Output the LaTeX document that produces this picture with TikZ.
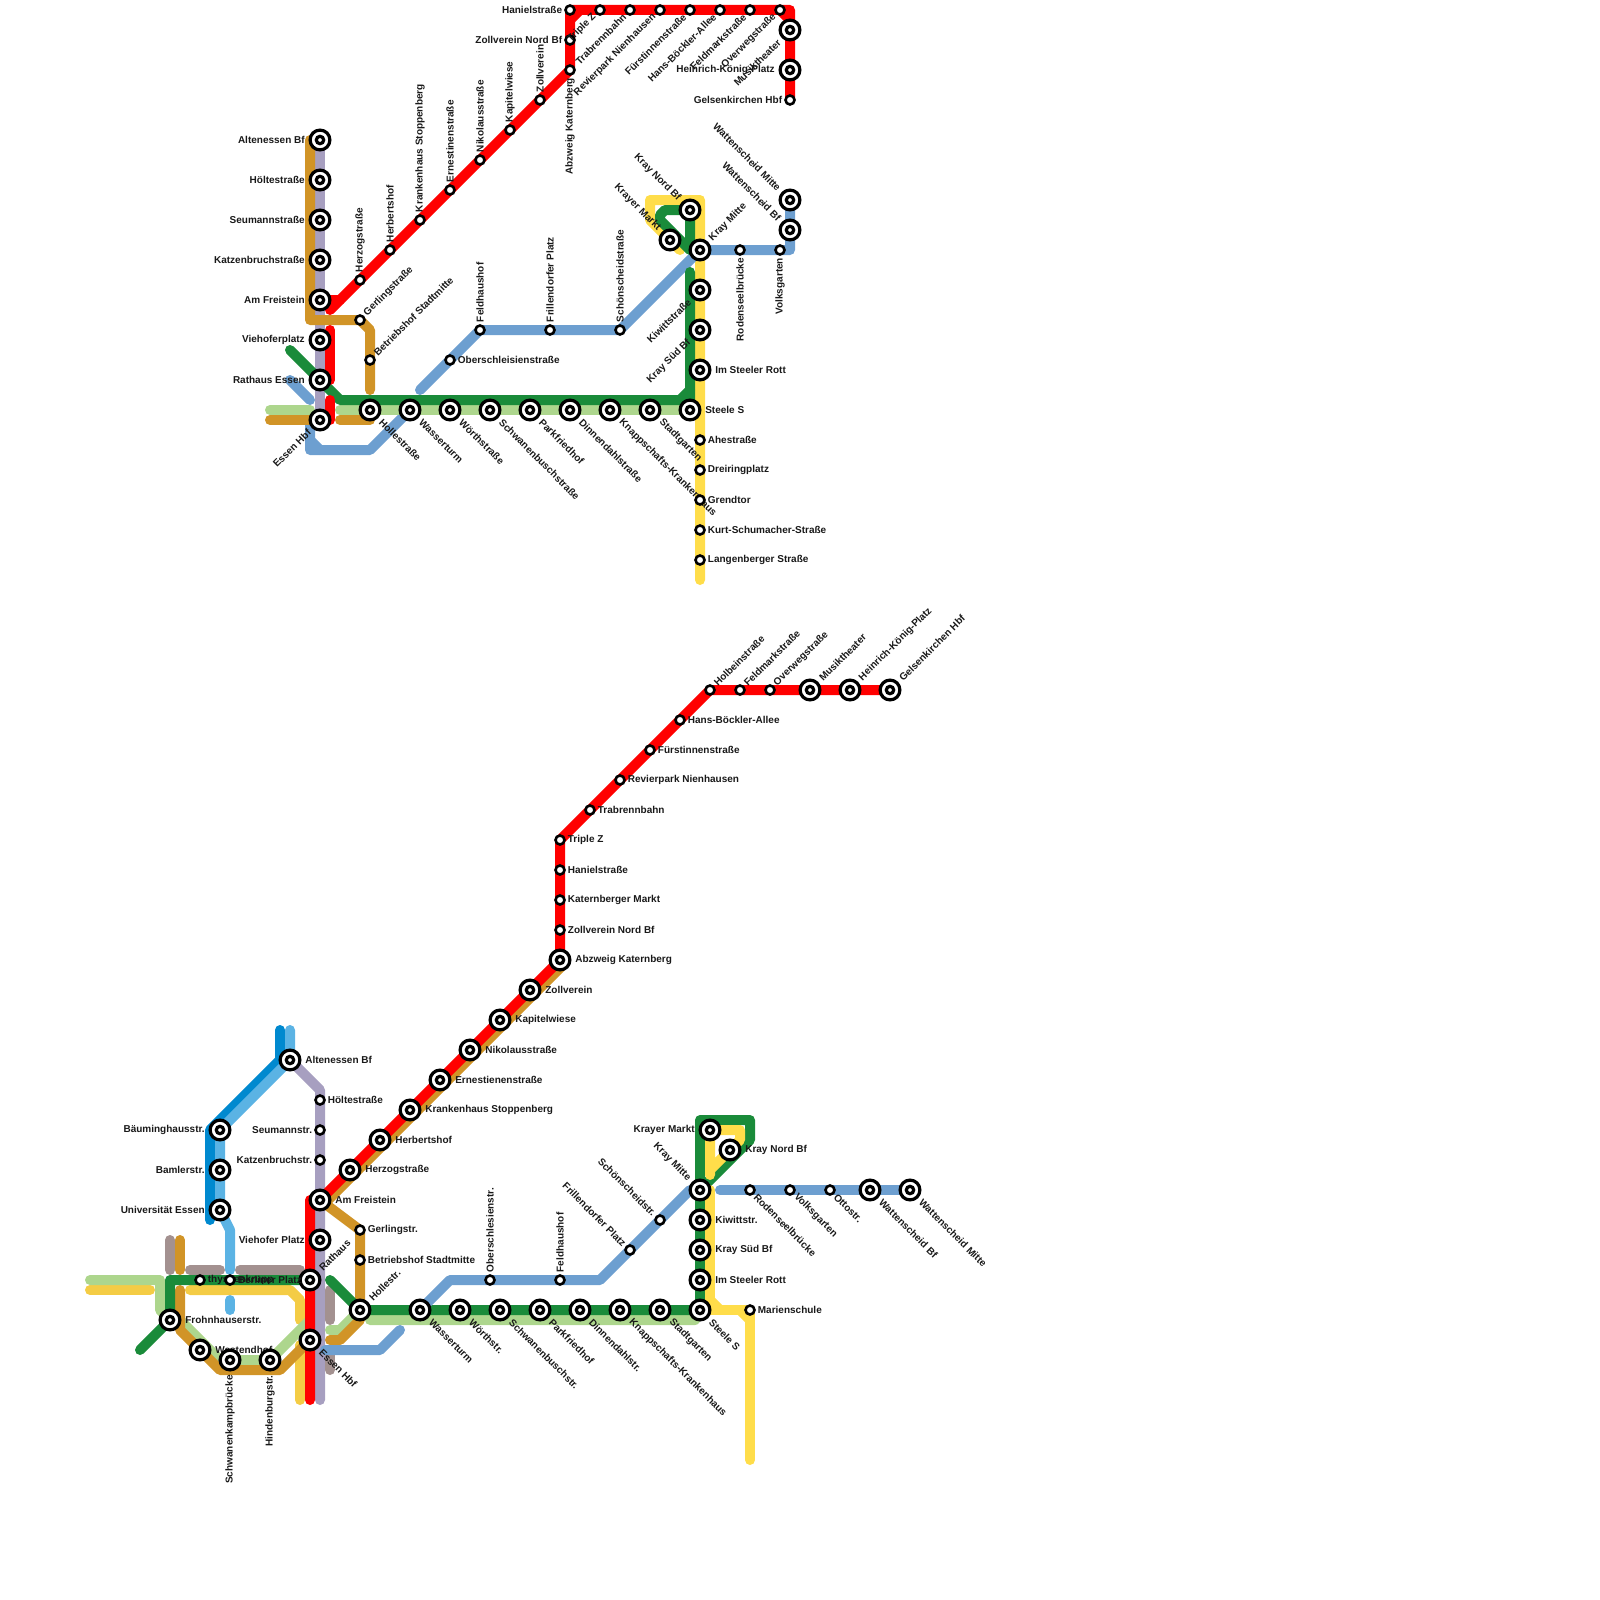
\documentclass[tikz,border=0pt]{standalone}
\usepackage{fontspec}
\setsansfont{Liberation Sans}
\usepackage{xcolor}
\usepackage{tikz}
\usetikzlibrary{positioning,calc}
\pgfdeclarelayer{background}
\pgfsetlayers{background,main}
\definecolor{linered}{HTML}{FF0000}
\definecolor{linelilac}{HTML}{A79FC0}
\definecolor{lineochre}{HTML}{D19427}
\definecolor{linegreen}{HTML}{1A8B3A}
\definecolor{linelime}{HTML}{ADD68D}
\definecolor{lineblue}{HTML}{6D9FD0}
\definecolor{linesun}{HTML}{FFDD4A}
\definecolor{linegold}{HTML}{F4CC45}
\definecolor{linecyan}{HTML}{5BB3E4}
\definecolor{lineazure}{HTML}{0089CF}
\definecolor{linemauve}{HTML}{A39190}

\begin{document}
\begin{tikzpicture}[
  x=0.5pt, y=-0.5pt,
  metro/.style={line width=5pt, line cap=round, line join=round},
  red line/.style={metro, draw=linered},
  lilac line/.style={metro, draw=linelilac},
  ochre line/.style={metro, draw=lineochre},
  green line/.style={metro, draw=linegreen},
  lime line/.style={metro, draw=linelime},
  blue line/.style={metro, draw=lineblue},
  sun line/.style={metro, draw=linesun},
  gold line/.style={metro, draw=linegold},
  cyan line/.style={metro, draw=linecyan},
  azure line/.style={metro, draw=lineazure},
  mauve line/.style={metro, draw=linemauve},
  stop gap/.code={\gdef\stopgap{#1}},
  big stop/.style={circle, draw=black, fill=white, line width=1.6pt, minimum size=9.9pt, inner sep=0pt, outer sep=0pt, stop gap=2.5pt,
    path picture={\draw[line width=1.6pt] (path picture bounding box.center) circle (1.85pt);}},
  small stop/.style={circle, draw=black, fill=white, line width=1.3pt, minimum size=4.5pt, inner sep=0pt, outer sep=0pt, stop gap=1.5pt},
  tag/.style={font=\sffamily\bfseries\fontsize{5}{6}\selectfont, inner sep=0pt, text=black!90},
  tag e/.style={label={[tag, shift={(0:\stopgap)}, anchor=west]0:#1}},
  tag w/.style={label={[tag, shift={(180:\stopgap)}, anchor=east]180:#1}},
  tag n/.style={label={[tag, shift={(90:\stopgap)}, rotate=90, anchor=west]90:#1}},
  tag s/.style={label={[tag, shift={(270:\stopgap)}, rotate=90, anchor=east]270:#1}},
  tag ne/.style={label={[tag, shift={(45:\stopgap)}, rotate=45, anchor=west]45:#1}},
  tag se/.style={label={[tag, shift={(-45:\stopgap)}, rotate=-45, anchor=west]-45:#1}},
  tag sw/.style={label={[tag, shift={(225:\stopgap)}, rotate=45, anchor=east]225:#1}},
  tag nw/.style={label={[tag, shift={(135:\stopgap)}, rotate=-45, anchor=east]135:#1}}
]
\useasboundingbox (0,0) rectangle (1600,1600);

% ---------- upper map: stops ----------
\node[big stop, tag w=Altenessen Bf] (tAltenessen) at (320,140) {};
\node[big stop, tag w=Höltestraße] (tHoelte) at (320,180) {};
\node[big stop, tag w=Seumannstraße] (tSeumann) at (320,220) {};
\node[big stop, tag w=Katzenbruchstraße] (tKatzen) at (320,260) {};
\node[big stop, tag w=Am Freistein] (tFreistein) at (320,300) {};
\node[big stop, tag w=Viehoferplatz] (tViehofer) at (320,340) {};
\node[big stop, tag w=Rathaus Essen] (tRathaus) at (320,380) {};
\node[big stop, tag sw=Essen Hbf] (tEssen) at (320,420) {};
\node[big stop, tag se=Hollestraße] (tHolle) at (370,410) {};
\node[big stop, tag se=Wasserturm] (tWasser) at (410,410) {};
\node[big stop, tag se=Wörthstraße] (tWoerth) at (450,410) {};
\node[big stop, tag se=Schwanenbuschstraße] (tSchwanen) at (490,410) {};
\node[big stop, tag se=Parkfriedhof] (tPark) at (530,410) {};
\node[big stop, tag se=Dinnendahlstraße] (tDinnen) at (570,410) {};
\node[big stop, tag se=Knappschafts-Krankenhaus] (tKnapp) at (610,410) {};
\node[big stop, tag se=Stadtgarten] (tStadt) at (650,410) {};
\node[big stop, tag e=Steele S] (tSteele) at (690,410) {};
\node[big stop, tag e=Im Steeler Rott] (tRott) at (700,370) {};
\node[big stop, tag sw=Kray Süd Bf] (tKraySued) at (700,330) {};
\node[big stop, tag sw=Kiwittstraße] (tKiwitt) at (700,290) {};
\node[big stop, tag ne=Kray Mitte] (tKrayMitte) at (700,250) {};
\node[big stop, tag nw=Kray Nord Bf] (tKrayNord) at (690,210) {};
\node[big stop, tag nw=Krayer Markt] (tKrayer) at (670,240) {};
\node[big stop, tag nw=Wattenscheid Bf] (tWattBf) at (790,230) {};
\node[big stop, tag nw=Wattenscheid Mitte] (tWattMitte) at (790,200) {};
\node[big stop, tag sw=Musiktheater] (tMusik) at (790,30) {};
\node[big stop, tag w=Heinrich-König-Platz] (tHeinrich) at (790,70) {};
\node[small stop, tag w=Gelsenkirchen Hbf] (tGelsen) at (790,100) {};
\node[small stop, tag n=Herzogstraße] (tHerzog) at (360,280) {};
\node[small stop, tag n=Herbertshof] (tHerberts) at (390,250) {};
\node[small stop, tag n=Krankenhaus Stoppenberg] (tKrankenhaus) at (420,220) {};
\node[small stop, tag n=Ernestinenstraße] (tErnest) at (450,190) {};
\node[small stop, tag n=Nikolausstraße] (tNikolaus) at (480,160) {};
\node[small stop, tag n=Kapitelwiese] (tKapitel) at (510,130) {};
\node[small stop, tag n=Zollverein] (tZollverein) at (540,100) {};
\node[small stop, tag s=Abzweig Katernberg] (tAbzweig) at (570,70) {};
\node[small stop, tag w=Zollverein Nord Bf] (tZollNord) at (570,40) {};
\node[small stop, tag w=Hanielstraße] (tHaniel) at (570,10) {};
\node[small stop, tag sw=Triple Z] (tTriple) at (600,10) {};
\node[small stop, tag sw=Trabrennbahn] (tTrab) at (630,10) {};
\node[small stop, tag sw=Revierpark Nienhausen] (tRevier) at (660,10) {};
\node[small stop, tag sw=Fürstinnenstraße] (tFuerst) at (690,10) {};
\node[small stop, tag sw=Hans-Böckler-Allee] (tHans) at (720,10) {};
\node[small stop, tag sw=Feldmarkstraße] (tFeld) at (750,10) {};
\node[small stop, tag sw=Overwegstraße] (tOverweg) at (780,10) {};
\node[small stop, tag ne=Gerlingstraße] (tGerling) at (360,320) {};
\node[small stop, tag ne=Betriebshof Stadtmitte] (tBetrieb) at (370,360) {};
\node[small stop, tag e=Oberschleisienstraße] (tOberschl) at (450,360) {};
\node[small stop, tag n=Feldhaushof] (tFeldhaus) at (480,330) {};
\node[small stop, tag n=Frillendorfer Platz] (tFrillen) at (550,330) {};
\node[small stop, tag n=Schönscheidstraße] (tSchoen) at (620,330) {};
\node[small stop, tag s=Rodenseelbrücke] (tRodensee) at (740,250) {};
\node[small stop, tag s=Volksgarten] (tVolks) at (780,250) {};
\node[small stop, tag e=Ahestraße] (tAhe) at (700,440) {};
\node[small stop, tag e=Dreiringplatz] (tDreiring) at (700,470) {};
\node[small stop, tag e=Grendtor] (tGrend) at (700,500) {};
\node[small stop, tag e=Kurt-Schumacher-Straße] (tKurt) at (700,530) {};
\node[small stop, tag e=Langenberger Straße] (tLangen) at (700,560) {};

% ---------- lower map: stops ----------
\node[big stop, tag e=Altenessen Bf] (bAltenessen) at (290,1060) {};
\node[small stop, tag e=Höltestraße] (bHoelte) at (320,1100) {};
\node[small stop, tag w=Seumannstr.] (bSeumann) at (320,1130) {};
\node[small stop, tag w=Katzenbruchstr.] (bKatzen) at (320,1160) {};
\node[big stop, tag e=Am Freistein] (bFreistein) at (320,1200) {};
\node[big stop, tag w=Viehofer Platz] (bViehofer) at (320,1240) {};
\node[big stop, tag ne=Rathaus] (bRathaus) at (310,1280) {};
\node[big stop, tag se=Essen Hbf] (bEssen) at (310,1340) {};
\node[big stop, tag w=Bäuminghausstr.] (bBaeuming) at (220,1130) {};
\node[big stop, tag w=Bamlerstr.] (bBamler) at (220,1170) {};
\node[big stop, tag w=Universität Essen] (bUni) at (220,1210) {};
\node[small stop, tag e=thyssenkrupp] (bThyssen) at (200,1280) {};
\node[small stop, tag e=Berliner Platz] (bBerliner) at (230,1280) {};
\node[big stop, tag e=Frohnhauserstr.] (bFrohn) at (170,1320) {};
\node[big stop, tag e=Westendhof] (bWestend) at (200,1350) {};
\node[big stop, tag s=Schwanenkampbrücke] (bSchwanenk) at (230,1360) {};
\node[big stop, tag s=Hindenburgstr.] (bHinden) at (270,1360) {};
\node[small stop, tag e=Gerlingstr.] (bGerling) at (360,1230) {};
\node[small stop, tag e=Betriebshof Stadtmitte] (bBetrieb) at (360,1260) {};
\node[big stop, tag ne=Hollestr.] (bHolle) at (360,1310) {};
\node[big stop, tag se=Wasserturm] (bWasser) at (420,1310) {};
\node[big stop, tag se=Wörthstr.] (bWoerth) at (460,1310) {};
\node[big stop, tag se=Schwanenbuschstr.] (bSchwanen) at (500,1310) {};
\node[big stop, tag se=Parkfriedhof] (bPark) at (540,1310) {};
\node[big stop, tag se=Dinnendahlstr.] (bDinnen) at (580,1310) {};
\node[big stop, tag se=Knappschafts-Krankenhaus] (bKnapp) at (620,1310) {};
\node[big stop, tag se=Stadtgarten] (bStadt) at (660,1310) {};
\node[big stop, tag se=Steele S] (bSteele) at (700,1310) {};
\node[big stop, tag e=Im Steeler Rott] (bRott) at (700,1280) {};
\node[big stop, tag e=Kray Süd Bf] (bKraySued) at (700,1250) {};
\node[big stop, tag e=Kiwittstr.] (bKiwitt) at (700,1220) {};
\node[big stop, tag nw=Kray Mitte] (bKrayMitte) at (700,1190) {};
\node[big stop, tag e=Kray Nord Bf] (bKrayNord) at (730,1150) {};
\node[big stop, tag w=Krayer Markt] (bKrayer) at (710,1130) {};
\node[small stop, tag e=Marienschule] (bMarien) at (750,1310) {};
\node[small stop, tag se=Rodenseelbrücke] (bRodensee) at (750,1190) {};
\node[small stop, tag se=Volksgarten] (bVolks) at (790,1190) {};
\node[small stop, tag se=Ottostr.] (bOtto) at (830,1190) {};
\node[big stop, tag se=Wattenscheid Bf] (bWattBf) at (870,1190) {};
\node[big stop, tag se=Wattenscheid Mitte] (bWattMitte) at (910,1190) {};
\node[small stop, tag nw=Schönscheidstr.] (bSchoen) at (660,1220) {};
\node[small stop, tag nw=Frillendorfer Platz] (bFrillen) at (630,1250) {};
\node[small stop, tag n=Feldhaushof] (bFeldhaus) at (560,1280) {};
\node[small stop, tag n=Oberschlesienstr.] (bOberschl) at (490,1280) {};
\node[big stop, tag e=Herzogstraße] (bHerzog) at (350,1170) {};
\node[big stop, tag e=Herbertshof] (bHerberts) at (380,1140) {};
\node[big stop, tag e=Krankenhaus Stoppenberg] (bKrankenhaus) at (410,1110) {};
\node[big stop, tag e=Ernestienenstraße] (bErnest) at (440,1080) {};
\node[big stop, tag e=Nikolausstraße] (bNikolaus) at (470,1050) {};
\node[big stop, tag e=Kapitelwiese] (bKapitel) at (500,1020) {};
\node[big stop, tag e=Zollverein] (bZollverein) at (530,990) {};
\node[big stop, tag e=Abzweig Katernberg] (bAbzweig) at (560,960) {};
\node[small stop, tag e=Zollverein Nord Bf] (bZollNord) at (560,930) {};
\node[small stop, tag e=Katernberger Markt] (bKatern) at (560,900) {};
\node[small stop, tag e=Hanielstraße] (bHaniel) at (560,870) {};
\node[small stop, tag e=Triple Z] (bTriple) at (560,840) {};
\node[small stop, tag e=Trabrennbahn] (bTrab) at (590,810) {};
\node[small stop, tag e=Revierpark Nienhausen] (bRevier) at (620,780) {};
\node[small stop, tag e=Fürstinnenstraße] (bFuerst) at (650,750) {};
\node[small stop, tag e=Hans-Böckler-Allee] (bHans) at (680,720) {};
\node[small stop, tag ne=Holbeinstraße] (bHolbein) at (710,690) {};
\node[small stop, tag ne=Feldmarkstraße] (bFeld) at (740,690) {};
\node[small stop, tag ne=Overwegstraße] (bOverweg) at (770,690) {};
\node[big stop, tag ne=Musiktheater] (bMusik) at (810,690) {};
\node[big stop, tag ne=Heinrich-König-Platz] (bHeinrich) at (850,690) {};
\node[big stop, tag ne=Gelsenkirchen Hbf] (bGelsen) at (890,690) {};

% ---------- free line ends ----------
\coordinate (tRedStart) at (330,310);
\coordinate (tRedStub) at (340,300);
\coordinate (tRedA) at (330,330);
\coordinate (tRedB) at (330,380);
\coordinate (tRedC) at (330,400);
\coordinate (tRedD) at (330,420);
\coordinate (tSunEnd) at (700,580);
\coordinate (tSunTip) at (680,250);
\coordinate (tGreenEnd) at (290,350);
\coordinate (tGreenTop) at (690,272);
\coordinate (tBlueStub) at (290,380);
\coordinate (tBlueStubB) at (310,400);
\coordinate (tBlueTail) at (420,390);
\coordinate (tOchreEnd) at (370,390);
\coordinate (tOchreL) at (270,420);
\coordinate (tOchreLB) at (310,420);
\coordinate (tOchreR) at (340,420);
\coordinate (tLimeL) at (270,410);
\coordinate (tLimeLB) at (310,410);
\coordinate (tLimeR) at (340,410);
\coordinate (bAzureTop) at (280,1030);
\coordinate (bAzureEnd) at (210,1220);
\coordinate (bCyanTop) at (290,1030);
\coordinate (bCyanEnd) at (230,1270);
\coordinate (bCyanA) at (230,1300);
\coordinate (bCyanB) at (230,1310);
\coordinate (bLilacEnd) at (320,1400);
\coordinate (bRedEnd) at (310,1400);
\coordinate (bGreenTail) at (140,1350);
\coordinate (bGreenStub) at (330,1280);
\coordinate (bLimeL) at (90,1280);
\coordinate (bLimeEnd) at (310,1320);
\coordinate (bLimeStub) at (330,1330);
\coordinate (bLimeMain) at (370,1320);
\coordinate (bGoldA) at (90,1290);
\coordinate (bGoldB) at (150,1290);
\coordinate (bGoldC) at (190,1290);
\coordinate (bGoldD) at (300,1320);
\coordinate (bGoldE) at (300,1345);
\coordinate (bGoldF) at (300,1400);
\coordinate (bOchreTail) at (180,1290);
\coordinate (bOchreStubA) at (180,1240);
\coordinate (bOchreStubB) at (180,1270);
\coordinate (bOchreEnd) at (310,1340);
\coordinate (bOchreDiagA) at (325,1203);
\coordinate (bOchreDiagB) at (562,966);
\coordinate (bOchreStub) at (330,1340);
\coordinate (bMauveA) at (170,1240);
\coordinate (bMauveB) at (170,1270);
\coordinate (bMauveC) at (190,1270);
\coordinate (bMauveD) at (220,1270);
\coordinate (bMauveE) at (240,1270);
\coordinate (bMauveF) at (300,1270);
\coordinate (bMauveG) at (330,1290);
\coordinate (bMauveH) at (330,1320);
\coordinate (bMauveI) at (330,1355);
\coordinate (bMauveJ) at (330,1370);
\coordinate (bBlueRight) at (720,1190);
\coordinate (bBlueLowA) at (325,1350);
\coordinate (bBlueLowB) at (400,1330);
\coordinate (bSunEnd) at (750,1460);
\coordinate (bSunTop) at (710,1175);

\begin{pgfonlayer}{background}
% ---------- upper map: lines ----------
\draw[sun line] (tSunEnd) -- (700,200) -- (650,200) -- (650,220) -- (tSunTip);
\draw[lilac line] (tAltenessen.center) -- (tEssen.center);
\draw[blue line] (tEssen.center) -- (310,420) -- (310,450) -- (370,450) -- (tWasser.center);
\draw[blue line] (310,440) -- (320,450);
\draw[blue line] (tBlueStub) -- (tBlueStubB);
\draw[blue line] (tBlueTail) -- (tFeldhaus.center) -- (tSchoen.center) -- (690,260) -- (tKrayMitte.center) -- (tWattBf.center |- tKrayMitte.center) -- (tWattMitte.center);
\draw[lime line] (tLimeL) -- (tLimeLB);
\draw[lime line] (tLimeR) -- (tSteele.center);
\draw[ochre line] (tOchreL) -- (tOchreLB);
\draw[ochre line] (tOchreR) -- (370,420);
\draw[ochre line] (310,140) -- (310,320) -- (tGerling.center) -- (370,330) -- (tOchreEnd);
\draw[green line] (tGreenEnd) -- (340,400) -- (690,400) -- (tGreenTop);
\draw[green line] (680,400) -- (690,390);
\draw[green line] (690,250) -- (tKrayNord.center) -- (665,210) -- (660,215) -- (660,220) -- (690,250);
\draw[red line] (tRedStart) -- (tAbzweig.center) -- (tHaniel.center) -- (790,10) -- (tGelsen.center);
\draw[red line] (570,20) -- (580,10);
\draw[red line] (780,10) -- (790,20);
\draw[red line] (tFreistein.center) -- (tRedStub);
\draw[red line] (tRedA) -- (tRedB);
\draw[red line] (tRedC) -- (tRedD);

% ---------- lower map: lines ----------
\draw[azure line] (bAzureTop) -- (280,1060) -- (210,1130) -- (bAzureEnd);
\draw[cyan line] (bCyanTop) -- (bAltenessen.center) -- (bBaeuming.center) -- (bUni.center) -- (230,1230) -- (bCyanEnd);
\draw[cyan line] (bCyanA) -- (bCyanB);
\draw[lilac line] (bAltenessen.center) -- (320,1090) -- (bLilacEnd);
\draw[mauve line] (bMauveA) -- (bMauveB);
\draw[mauve line] (bMauveC) -- (bMauveD);
\draw[mauve line] (bMauveE) -- (bMauveF);
\draw[mauve line] (bMauveG) -- (bMauveH);
\draw[mauve line] (bMauveI) -- (bMauveJ);
\draw[gold line] (bGoldA) -- (bGoldB);
\draw[gold line] (bGoldC) -- (290,1290) -- (300,1300) -- (bGoldD);
\draw[gold line] (bGoldE) -- (bGoldF);
\draw[lime line] (bLimeL) -- (160,1280) -- (160,1310) -- (170,1320) -- (180,1320) -- (220,1360) -- (bHinden.center) -- (bLimeEnd);
\draw[lime line] (bLimeStub) -- (340,1330) -- (bHolle.center);
\draw[lime line] (bLimeMain) -- (695,1320) -- (bSteele.center);
\draw[ochre line] (bOchreStubA) -- (bOchreStubB);
\draw[ochre line] (bOchreTail) -- (180,1330) -- (220,1370) -- (280,1370) -- (bOchreEnd);
\draw[ochre line] (bOchreDiagA) -- (bOchreDiagB);
\draw[ochre line] (bFreistein.center) -- (bGerling.center) -- (bHolle.center) -- (360,1320) -- (340,1340) -- (bOchreStub);
\draw[green line] (bGreenTail) -- (bFrohn.center) -- (170,1280) -- (bRathaus.center);
\draw[green line] (bGreenStub) -- (bHolle.center) -- (bSteele.center) -- (700,1120) -- (750,1120) -- (750,1140) -- (bKrayMitte.center);
\draw[sun line] (bSunTop) -- (710,1130) -- (740,1130) -- (740,1140) -- (710,1170);
\draw[sun line] (710,1190) -- (710,1310) -- (bMarien.center) -- (bSunEnd);
\draw[sun line] (710,1300) -- (720,1310);
\draw[sun line] (740,1310) -- (750,1320);
\draw[blue line] (bKrayMitte.center) -- (690,1190) -- (600,1280) -- (450,1280) -- (bWasser.center);
\draw[blue line] (bBlueRight) -- (bWattMitte.center);
\draw[blue line] (bBlueLowA) -- (380,1350) -- (bBlueLowB);
\draw[red line] (bRedEnd) -- (310,1200) -- (bFreistein.center) -- (bAbzweig.center) -- (bTriple.center) -- (bHolbein.center) -- (bGelsen.center);
\end{pgfonlayer}
\end{tikzpicture}
\end{document}
